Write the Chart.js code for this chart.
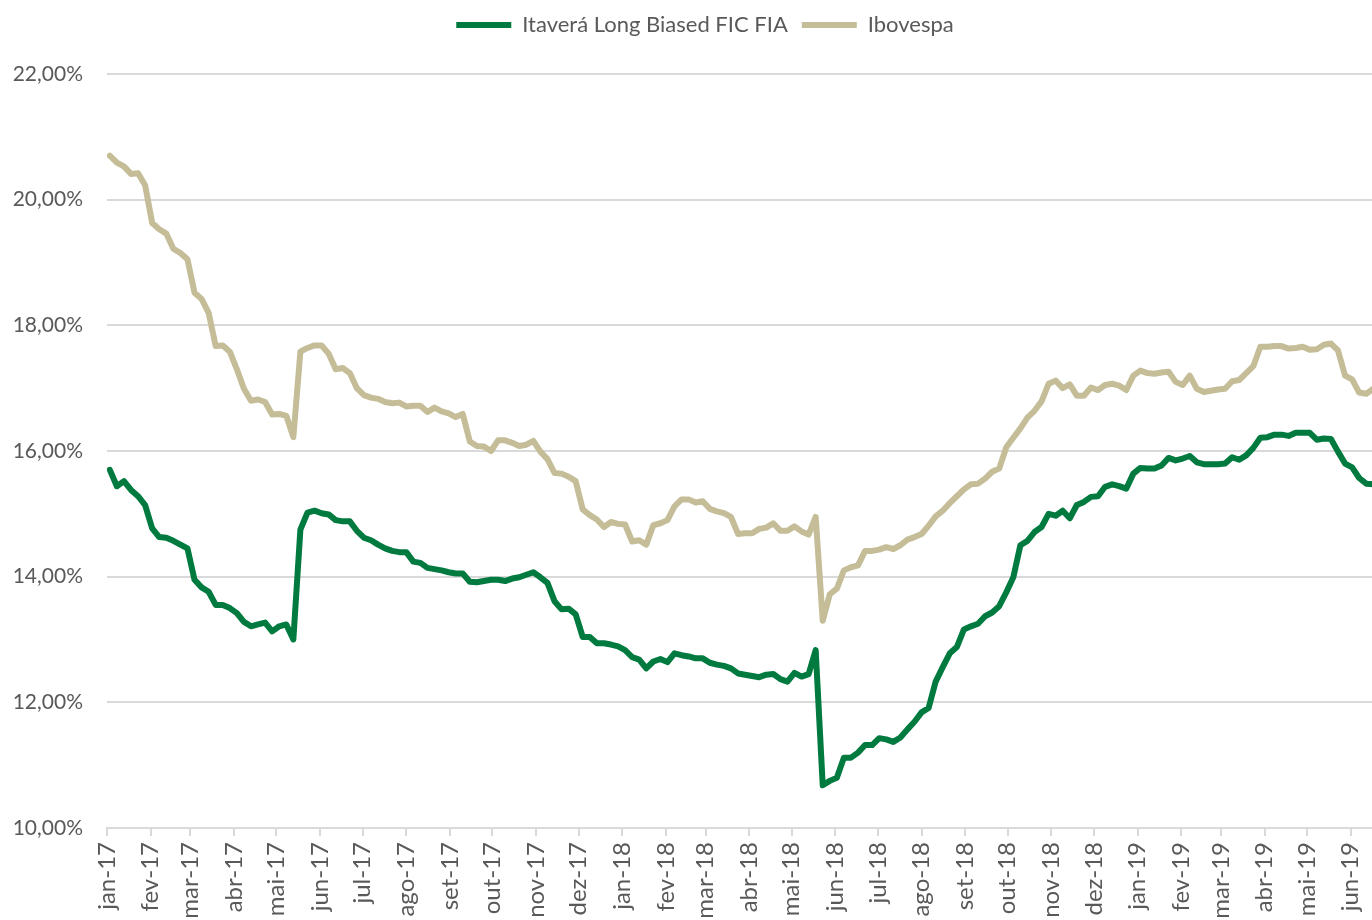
<!DOCTYPE html>
<html lang="pt-BR">
<head>
<meta charset="UTF-8">
<title>Volatilidade - Itaverá Long Biased FIC FIA x Ibovespa</title>
<script src="https://cdn.jsdelivr.net/npm/chart.js"></script>
<style>
  html, body { margin: 0; padding: 0; background: #fff; overflow: hidden; }
  #wrap { position: relative; width: 1420px; height: 940px; }
</style>
</head>
<body>
<div id="wrap"><canvas id="grafico"></canvas></div>
<script>
// eixo x: rótulos mensais
const meses = ['jan-17', 'fev-17', 'mar-17', 'abr-17', 'mai-17', 'jun-17', 'jul-17', 'ago-17', 'set-17', 'out-17', 'nov-17', 'dez-17',
  'jan-18', 'fev-18', 'mar-18', 'abr-18', 'mai-18', 'jun-18', 'jul-18', 'ago-18', 'set-18', 'out-18', 'nov-18', 'dez-18',
  'jan-19', 'fev-19', 'mar-19', 'abr-19', 'mai-19', 'jun-19'];

// série começa em 03/01/2017, um ponto a cada 5 dias corridos
const diaInicial = 2;
const passoDias = 5;

const itavera = [
  15.70, 15.44, 15.52, 15.38, 15.28, 15.14, 14.77, 14.63, 14.62, 14.57,
  14.51, 14.45, 13.95, 13.83, 13.76, 13.55, 13.55, 13.50, 13.42, 13.28,
  13.21, 13.24, 13.27, 13.13, 13.21, 13.24, 13.00, 14.75, 15.02, 15.05,
  15.01, 14.99, 14.90, 14.88, 14.88, 14.73, 14.62, 14.58, 14.51, 14.45,
  14.41, 14.39, 14.39, 14.24, 14.22, 14.14, 14.12, 14.10, 14.07, 14.05,
  14.05, 13.92, 13.91, 13.93, 13.95, 13.95, 13.93, 13.97, 13.99, 14.03,
  14.07, 13.99, 13.90, 13.61, 13.48, 13.49, 13.40, 13.04, 13.04, 12.94,
  12.94, 12.92, 12.89, 12.83, 12.72, 12.68, 12.54, 12.65, 12.69, 12.64,
  12.78, 12.75, 12.73, 12.70, 12.70, 12.63, 12.60, 12.58, 12.54, 12.46,
  12.44, 12.42, 12.40, 12.44, 12.45, 12.37, 12.33, 12.47, 12.41, 12.45,
  12.83, 10.68, 10.75, 10.80, 11.12, 11.12, 11.20, 11.32, 11.32, 11.43,
  11.41, 11.37, 11.44, 11.57, 11.69, 11.84, 11.91, 12.33, 12.56, 12.78,
  12.88, 13.16, 13.21, 13.25, 13.37, 13.43, 13.53, 13.75, 13.99, 14.50,
  14.57, 14.71, 14.79, 15.00, 14.97, 15.05, 14.93, 15.14, 15.19, 15.27,
  15.28, 15.43, 15.47, 15.44, 15.40, 15.64, 15.73, 15.72, 15.72, 15.77,
  15.89, 15.85, 15.88, 15.92, 15.82, 15.79, 15.79, 15.79, 15.80, 15.90,
  15.86, 15.93, 16.05, 16.21, 16.22, 16.26, 16.26, 16.24, 16.29, 16.29,
  16.29, 16.18, 16.20, 16.19, 15.99, 15.80, 15.74, 15.57, 15.48, 15.47
];

const ibovespa = [
  20.70, 20.59, 20.53, 20.41, 20.42, 20.23, 19.63, 19.53, 19.46, 19.22,
  19.15, 19.05, 18.52, 18.42, 18.20, 17.67, 17.68, 17.58, 17.30, 16.99,
  16.80, 16.82, 16.78, 16.58, 16.59, 16.56, 16.22, 17.58, 17.64, 17.68,
  17.68, 17.55, 17.30, 17.32, 17.24, 17.00, 16.89, 16.85, 16.83, 16.78,
  16.76, 16.77, 16.71, 16.72, 16.72, 16.62, 16.69, 16.63, 16.60, 16.54,
  16.59, 16.15, 16.08, 16.07, 16.00, 16.17, 16.17, 16.13, 16.08, 16.10,
  16.16, 15.99, 15.87, 15.65, 15.64, 15.59, 15.52, 15.07, 14.98, 14.91,
  14.79, 14.87, 14.84, 14.83, 14.56, 14.58, 14.51, 14.82, 14.85, 14.90,
  15.12, 15.23, 15.23, 15.18, 15.20, 15.08, 15.04, 15.01, 14.95, 14.68,
  14.69, 14.69, 14.76, 14.78, 14.85, 14.73, 14.73, 14.80, 14.72, 14.67,
  14.95, 13.30, 13.72, 13.81, 14.10, 14.15, 14.18, 14.41, 14.41, 14.43,
  14.47, 14.44, 14.50, 14.59, 14.63, 14.68, 14.81, 14.96, 15.05, 15.17,
  15.28, 15.39, 15.47, 15.48, 15.56, 15.67, 15.72, 16.06, 16.21, 16.36,
  16.53, 16.64, 16.79, 17.07, 17.12, 17.00, 17.06, 16.88, 16.88, 17.01,
  16.97, 17.05, 17.07, 17.04, 16.97, 17.20, 17.28, 17.24, 17.23, 17.25,
  17.26, 17.10, 17.05, 17.20, 16.99, 16.94, 16.96, 16.98, 16.99, 17.11,
  17.13, 17.24, 17.35, 17.66, 17.66, 17.67, 17.67, 17.63, 17.64, 17.66,
  17.61, 17.62, 17.69, 17.71, 17.60, 17.20, 17.14, 16.93, 16.91, 16.99
];

// dias corridos desde 01/01/2017 para o início de cada mês
const diasMes = meses.map((m, k) => (Date.UTC(2017, k, 1) - Date.UTC(2017, 0, 1)) / 86400000);
const pontos = serie => serie.map((v, i) => ({ x: diaInicial + i * passoDias, y: v }));

const corTexto = '#595959';
const corGrade = '#d9d9d9';
const fonte = 'Lato, "Open Sans", sans-serif';

// espaço extra entre a legenda e a área do gráfico
const espacoLegenda = {
  id: 'espacoLegenda',
  beforeInit(chart) {
    const fitOriginal = chart.legend.fit;
    chart.legend.fit = function () {
      fitOriginal.bind(chart.legend)();
      this.height += 28;
    };
  }
};

new Chart(document.getElementById('grafico'), {
  type: 'line',
  data: {
    datasets: [
      {
        label: 'Itaverá Long Biased FIC FIA',
        data: pontos(itavera),
        borderColor: '#007a3e',
        backgroundColor: '#007a3e',
        borderWidth: 6,
        borderCapStyle: 'round',
        borderJoinStyle: 'round',
        pointRadius: 0,
        tension: 0
      },
      {
        label: 'Ibovespa',
        data: pontos(ibovespa),
        borderColor: '#c4bd97',
        backgroundColor: '#c4bd97',
        borderWidth: 6,
        borderCapStyle: 'round',
        borderJoinStyle: 'round',
        pointRadius: 0,
        tension: 0
      }
    ]
  },
  options: {
    responsive: true,
    maintainAspectRatio: false,
    animation: false,
    layout: { padding: { top: 0, right: 10, bottom: 0, left: 0 } },
    plugins: {
      legend: {
        position: 'top',
        labels: {
          usePointStyle: true,
          pointStyle: 'line',
          pointStyleWidth: 55,
          color: corTexto,
          font: { family: fonte, size: 22 },
          padding: 14
        }
      },
      tooltip: { enabled: false }
    },
    scales: {
      x: {
        type: 'linear',
        min: 0,
        max: 923,
        afterBuildTicks: scale => { scale.ticks = diasMes.map(v => ({ value: v })); },
        afterFit: scale => { scale.height = 112; },
        border: { display: true, color: corGrade, width: 2 },
        grid: { drawOnChartArea: false, drawTicks: true, tickLength: 8, color: corGrade, lineWidth: 2 },
        ticks: {
          autoSkip: false,
          maxRotation: 90,
          minRotation: 90,
          padding: 6,
          color: corTexto,
          font: { family: fonte, size: 24 },
          callback: (v, i) => meses[i]
        }
      },
      y: {
        min: 10,
        max: 22,
        afterFit: scale => { scale.width = 107; },
        border: { display: false },
        grid: { color: corGrade, lineWidth: 2, drawTicks: false },
        ticks: {
          stepSize: 2,
          padding: 24,
          color: corTexto,
          font: { family: fonte, size: 21 },
          callback: v => v.toFixed(2).replace('.', ',') + '%'
        }
      }
    }
  },
  plugins: [espacoLegenda]
});
</script>
</body>
</html>
